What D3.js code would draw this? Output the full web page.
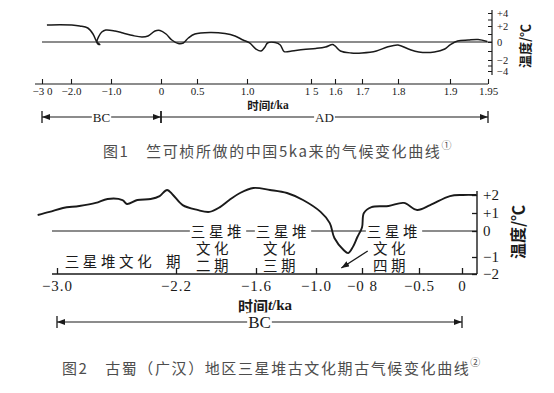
<!DOCTYPE html>
<html><head><meta charset="utf-8">
<script src="https://cdn.jsdelivr.net/npm/d3@7"></script>
<style>body{margin:0;background:#fff}svg{display:block}</style>
</head><body>
<svg id="c" width="554" height="393"></svg>
<script>
// ---------- Figure 1 data (Chu Kochen curve) ----------
const fig1Time = [-2.83,-2.38,-1.98,-1.78,-1.58,-1.45,-1.38,-1.33,-1.28,-1.35,-1.30,-1.23,-1.13,-0.92,-0.76,-0.56,-0.38,-0.26,-0.12,-0.02,0.07,0.15,0.24,0.31,0.38,0.47,0.63,0.78,0.88,0.96,1.02,1.07,1.11,1.14,1.16,1.22,1.26,1.29,1.35,1.44,1.52,1.56,1.59,1.60,1.62,1.66,1.70,1.74,1.77,1.80,1.82,1.84,1.87,1.89,1.90,1.91,1.924,1.937,1.949];
const fig1Temp = [2.15,2.2,2.15,2.0,1.75,1.0,0.25,-0.22,-0.28,0,0.75,1.25,1.5,1.375,1.125,0.8,0.625,0.75,1.375,1.44,1.0,0.25,-0.17,-0.11,0.5,1.0,1.19,1.06,0.75,0.25,-0.11,-0.78,-1.0,-0.56,-0.11,-0.06,-0.33,-1.06,-1.0,-0.83,-0.72,-0.56,-0.28,-0.44,-1.0,-1.22,-1.22,-1.0,-0.56,-0.33,-0.78,-1.11,-1.11,-0.78,-0.33,0.125,0.25,0.31,0.06];
const fig1TimeTicks = [-3,-2,-1,0,0.5,1,1.5,1.6,1.7,1.8,1.9,1.95];
const fig1TimeLabels = ["−3 0","−2.0","−1.0","0","0.5","1.0","1 5","1.6","1.7","1.8","1.9","1.95"];
const fig1TempTicks = [-4,-3,-2,-1,0,1,2,3,4];
const fig1TempLabels = {"-4":"−4","-2":"−2","0":"0","2":"+2","4":"+4"};
const fig1Caption = "图1　竺可桢所做的中国5ka来的气候变化曲线";
const fig1Note = "①";

// ---------- Figure 2 data (Sanxingdui) ----------
const fig2Time = [-3.13,-3.05,-2.96,-2.85,-2.74,-2.66,-2.56,-2.53,-2.46,-2.37,-2.31,-2.26,-2.22,-2.15,-2.04,-1.95,-1.87,-1.80,-1.72,-1.62,-1.46,-1.29,-1.13,-0.98,-0.94,-0.92,-0.88,-0.86,-0.84,-0.82,-0.80,-0.79,-0.75,-0.66,-0.58,-0.51,-0.37,-0.14,0.01,0.17];
const fig2Temp = [0.89,1.06,1.28,1.39,1.56,1.78,1.72,1.5,1.72,1.78,1.94,2.28,2.0,1.44,1.17,1.06,1.33,1.72,2.11,2.39,2.28,2.11,1.72,1.06,0.44,-0.27,-0.73,-0.85,-0.62,-0.23,0.2,1.0,1.33,1.39,1.56,1.17,1.44,1.94,2.0,2.0];
const fig2TimeTicks = [-3.0,-2.2,-1.6,-1.0,-0.8,-0.5,0];
const fig2TimeLabels = ["−3.0","−2.2","−1.6","−1.0","−0 8","−0.5","0"];
const fig2TempTicks = [-2,-1,0,1,2];
const fig2TempLabels = ["−2","−1","0","+1","+2"];
const fig2Caption = "图2　古蜀（广汉）地区三星堆古文化期古气候变化曲线";
const fig2Note = "②";

const ink = "#1a1a1a";
const serif = "'Liberation Serif','DejaVu Serif',serif";
const cjk = "'Noto Sans CJK SC','Noto Sans CJK JP',sans-serif";

const svg = d3.select("#c");
const defs = svg.append("defs");
defs.append("marker").attr("id","arr").attr("viewBox","0 0 8 6")
  .attr("refX",8).attr("refY",3).attr("markerWidth",8).attr("markerHeight",6)
  .attr("markerUnits","userSpaceOnUse").attr("orient","auto-start-reverse")
  .append("path").attr("d","M0,0L8,3L0,6z").attr("fill",ink);

function bgText(g, sel, shrink){ // white rect behind text
  sel.each(function(){
    const b=this.getBBox(); const s=shrink||0;
    g.insert("rect", () => this).attr("x",b.x-1).attr("y",b.y+s).attr("width",b.width+2).attr("height",b.height-2*s).attr("fill","#fff");
  });
}
function spanLine(g, x0, x1, y, label, fs, arrowStart){
  g.append("line").attr("x1",x0).attr("x2",x1).attr("y1",y).attr("y2",y)
    .attr("stroke",ink).attr("stroke-width",1.1)
    .attr("marker-end","url(#arr)").attr("marker-start",arrowStart?"url(#arr)":null);
  [x0,x1].forEach(x=>g.append("line").attr("x1",x).attr("x2",x).attr("y1",y-6).attr("y2",y+6).attr("stroke",ink).attr("stroke-width",1.3));
  const t=g.append("text").attr("x",(x0+x1)/2).attr("y",y).attr("text-anchor","middle")
    .attr("dominant-baseline","central").attr("font-family",serif).attr("font-size",fs).attr("fill",ink).text(label);
  bgText(g,t);
}
function timeTitle(g, x, y, fs){
  const t=g.append("text").attr("x",x).attr("y",y).attr("text-anchor","middle").attr("dominant-baseline","central")
    .attr("fill",ink).attr("font-weight","bold");
  t.append("tspan").attr("font-family",cjk).attr("font-size",fs).text("时间");
  t.append("tspan").attr("font-family",serif).attr("font-size",fs).attr("font-style","italic").text("t");
  t.append("tspan").attr("font-family",serif).attr("font-size",fs).text("/ka");
}
function caption(x,y,txt,note){
  const t=svg.append("text").attr("x",x).attr("y",y).attr("dominant-baseline","central")
    .attr("font-family",cjk).attr("font-size",15).attr("letter-spacing","1.6px").attr("fill","#4d4d4d");
  t.append("tspan").text(txt);
  t.append("tspan").attr("font-size",10).attr("dy",-6).text(note);
}

// ================= Figure 1 =================
const g1 = svg.append("g");
const x1 = d3.scaleLinear().domain(fig1TimeTicks).range([42,71,111,161,197,247,311,335,362,398,450,488]);
const y1 = d3.scaleLinear().domain([-4,-2,0,2,4]).range([71,60,42,26,13]);

g1.append("line").attr("x1",x1(-3)).attr("x2",492).attr("y1",y1(0)).attr("y2",y1(0)).attr("stroke",ink).attr("stroke-width",1.1);
g1.append("path").datum(d3.zip(fig1Time,fig1Temp))
  .attr("d", d3.line().x(d=>x1(d[0])).y(d=>y1(d[1])).curve(d3.curveCatmullRom.alpha(0.5)))
  .attr("fill","none").attr("stroke",ink).attr("stroke-width",1.5);

const ax1 = g1.append("g").attr("transform","translate(0,84)")
  .call(d3.axisBottom(x1).tickValues(fig1TimeTicks).tickFormat((d,i)=>fig1TimeLabels[i]).tickSizeInner(-5).tickSizeOuter(0).tickPadding(3));
ax1.select(".domain").remove();
ax1.selectAll("line").attr("stroke",ink).attr("stroke-width",1.1);
ax1.selectAll("text").attr("font-family",serif).attr("font-size",11).attr("fill",ink);
g1.append("line").attr("x1",35).attr("x2",x1(1.95)).attr("y1",84).attr("y2",84).attr("stroke",ink).attr("stroke-width",1.1);

const ay1 = g1.append("g").attr("transform","translate(492,0)")
  .call(d3.axisRight(y1).tickValues(fig1TempTicks).tickFormat(d=>fig1TempLabels[d]||"").tickSizeInner(-4).tickSizeOuter(0).tickPadding(5));
ay1.select(".domain").remove();
ay1.selectAll("line").attr("stroke",ink);
ay1.selectAll("text").attr("font-family",serif).attr("font-size",10.5).attr("fill",ink);
g1.append("line").attr("x1",492).attr("x2",492).attr("y1",y1(4)-3).attr("y2",y1(-4)+4).attr("stroke",ink).attr("stroke-width",1.2);
g1.append("text").attr("transform","translate(524,46) rotate(-90)").attr("text-anchor","middle").attr("dominant-baseline","central")
  .attr("font-family",cjk).attr("font-size",13).attr("font-weight","bold").attr("fill",ink).text("温度/℃");

timeTitle(g1, 268, 105, 11.5);
spanLine(g1, x1(-3), x1(0), 117, "BC", 13, true);
spanLine(g1, x1(0), x1(1.95), 117, "AD", 13, false);
caption(103, 150, fig1Caption, fig1Note);

// ================= Figure 2 =================
const g2 = svg.append("g");
const x2 = d3.scaleLinear().domain(fig2TimeTicks).range([57,176,256,316,362,419,462]);
const y2 = d3.scaleLinear().domain(fig2TempTicks).range([274,257,231,213,195]);

g2.append("line").attr("x1",52).attr("x2",477).attr("y1",y2(0)).attr("y2",y2(0)).attr("stroke",ink).attr("stroke-width",1.2);

const lab = g2.append("g").attr("font-family",cjk).attr("font-size",14.5).attr("fill",ink)
  .attr("text-anchor","middle").attr("dominant-baseline","central").attr("letter-spacing","3.6px");
const labels = [
  ["三星堆文化",110,260],["期",175,260],
  ["三星堆",218,230],["文化",214,247],["二期",214,264],
  ["三星堆",283,230],["文化",281,247],["三期",281,264],
  ["三星堆",394,230],["文化",391,247],["四期",391,264]
];
const lt = lab.selectAll("text").data(labels).join("text").attr("x",d=>d[1]).attr("y",d=>d[2]).text(d=>d[0]);
bgText(lab, lt.filter(d=>d[2]===230), 4);

g2.append("path").datum(d3.zip(fig2Time,fig2Temp))
  .attr("d", d3.line().x(d=>x2(d[0])).y(d=>y2(d[1])).curve(d3.curveCatmullRom.alpha(0.5)))
  .attr("fill","none").attr("stroke",ink).attr("stroke-width",1.9);

const arrowFrom = [-0.77,-0.77], arrowTo = [-0.89,-1.65];
g2.append("line").attr("x1",x2(arrowFrom[0])).attr("y1",y2(arrowFrom[1])).attr("x2",x2(arrowTo[0])).attr("y2",y2(arrowTo[1]))
  .attr("stroke",ink).attr("stroke-width",1.3).attr("marker-end","url(#arr)");

const ax2 = g2.append("g").attr("transform","translate(0,274)")
  .call(d3.axisBottom(x2).tickValues(fig2TimeTicks).tickFormat((d,i)=>fig2TimeLabels[i]).tickSizeInner(-6).tickSizeOuter(0).tickPadding(6));
ax2.select(".domain").remove();
ax2.selectAll("line").attr("stroke",ink).attr("stroke-width",1.3);
ax2.selectAll("text").attr("font-family",serif).attr("font-size",15).attr("letter-spacing","1px").attr("fill",ink);
g2.append("line").attr("x1",52).attr("x2",477).attr("y1",274).attr("y2",274).attr("stroke",ink).attr("stroke-width",1.3);

const ay2 = g2.append("g").attr("transform","translate(477,0)")
  .call(d3.axisRight(y2).tickValues(fig2TempTicks).tickFormat((d,i)=>fig2TempLabels[i]).tickSizeInner(-5).tickSizeOuter(0).tickPadding(6));
ay2.select(".domain").remove();
ay2.selectAll("line").attr("stroke",ink).attr("stroke-width",1.3);
ay2.selectAll("text").attr("font-family",serif).attr("font-size",15).attr("fill",ink);
g2.append("line").attr("x1",477).attr("x2",477).attr("y1",y2(2)-4).attr("y2",274).attr("stroke",ink).attr("stroke-width",1.4);
g2.append("text").attr("transform","translate(517,232) rotate(-90)").attr("text-anchor","middle").attr("dominant-baseline","central")
  .attr("font-family",cjk).attr("font-size",16).attr("font-weight","bold").attr("fill",ink).text("温度/℃");

timeTitle(g2, 265, 305, 15);
spanLine(g2, x2(-3), x2(0), 322, "BC", 17, true);
caption(62, 367, fig2Caption, fig2Note);
</script>
</body></html>
